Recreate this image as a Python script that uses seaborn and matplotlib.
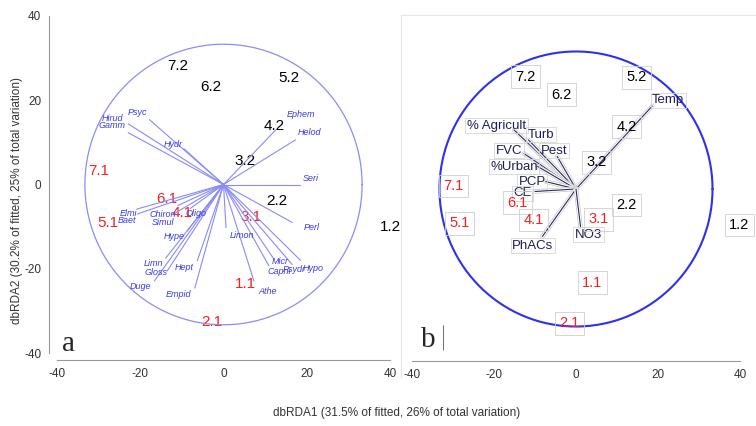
import numpy as np
import pandas as pd
import seaborn as sns
import matplotlib
matplotlib.use('Agg')
import matplotlib.pyplot as plt
import matplotlib.patheffects as pe

sns.set_style('white')
plt.rcParams['font.family'] = ['Liberation Sans', 'DejaVu Sans']
plt.rcParams['axes.unicode_minus'] = False

# sites (same for both panels)
site_names = ['7.2', '6.2', '5.2', '4.2', '3.2', '2.2', '1.2',
              '7.1', '6.1', '5.1', '4.1', '3.1', '1.1', '2.1']
site_red = [False] * 7 + [True] * 7
a_site_x = [-11.1, -3.1, 15.8, 12.1, 5.1, 12.8, 40.0,
            -29.9, -13.5, -27.7, -9.9, 6.7, 5.3, -2.9]
a_site_y = [28.1, 23.1, 25.2, 13.8, 5.5, -4.0, -10.2,
            3.3, -3.4, -9.2, -6.8, -7.6, -23.7, -32.6]
b_site_x = [-12.4, -3.5, 14.7, 12.4, 5.0, 12.3, 39.8,
            -29.8, -14.3, -28.4, -10.4, 5.4, 4.0, -1.7]
b_site_y = [27.2, 22.8, 27.0, 15.1, 6.5, -3.9, -8.7,
            0.7, -3.3, -8.3, -7.5, -7.3, -22.7, -32.5]

# taxa vectors (panel a)
taxa = ['Psyc', 'Hirud', 'Gamm', 'Hydr', 'Ephem', 'Helod', 'Seri', 'Perl',
        'Hypo', 'Psydr', 'Micr', 'Capni', 'Athe', 'Limon', 'Empid', 'Hept',
        'Duge', 'Gloss', 'Limn', 'Hype', 'Oligo', 'Simul', 'Chiron', 'Baet', 'Elmi']
taxa_x = [-17.8, -22.9, -22.9, -9.5, 12.5, 17.3, 18.3, 16.5,
          18.5, 16.5, 12.1, 10.9, 7.3, 0.6, -6.9, -6.3,
          -16.6, -13.5, -13.9, -8.7, -8.0, -12.0, -11.0, -20.7, -20.7]
taxa_y = [15.4, 14.4, 12.3, 8.5, 12.9, 10.6, 0.0, -9.0,
          -18.0, -19.0, -17.7, -19.3, -22.9, -10.2, -24.6, -18.1,
          -22.9, -20.5, -17.5, -11.0, -5.7, -7.0, -5.0, -7.0, -5.8]
taxa_lx = [-20.7, -26.7, -26.7, -12.1, 18.7, 20.6, 20.9, 21.2,
           21.6, 17.1, 13.7, 13.3, 10.5, 4.5, -10.7, -9.4,
           -20.0, -16.3, -16.9, -11.9, -6.5, -14.5, -14.7, -23.1, -22.8]
taxa_ly = [17.0, 15.7, 13.9, 9.5, 16.7, 12.3, 1.4, -10.3,
           -20.0, -20.2, -18.3, -20.6, -25.4, -12.0, -26.0, -19.7,
           -24.3, -21.0, -18.8, -12.3, -7.0, -9.0, -7.2, -8.6, -7.0]

# environmental vectors (panel b)
env = ['Temp', '% Agricult', 'Turb', 'Pest', 'FVC', '%Urban', 'PCP', 'CE', 'PhACs', 'NO3']
env_x = [18.6, -15.1, -11.6, -4.6, -12.7, -9.4, -7.4, -10.0, -8.2, 1.1]
env_y = [20.1, 14.3, 11.9, 7.9, 8.6, 5.5, 1.8, -0.6, -11.5, -9.1]
env_lx = [22.5, -19.4, -8.6, -5.4, -16.3, -15.1, -10.7, -13.1, -10.5, 3.0]
env_ly = [21.5, 15.3, 13.1, 9.3, 9.3, 5.4, 1.8, -1.0, -13.7, -11.1]

circle_r = 33.3

sites_a = pd.DataFrame({'x': a_site_x, 'y': a_site_y, 'name': site_names, 'red': site_red})
sites_b = pd.DataFrame({'x': b_site_x, 'y': b_site_y, 'name': site_names, 'red': site_red})
t = np.linspace(0, 2 * np.pi, 400)
circ = pd.DataFrame({'x': circle_r * np.cos(t), 'y': circle_r * np.sin(t)})

fig = plt.figure(figsize=(7.56, 4.26), dpi=100)
ax1 = fig.add_axes([57 / 756, 73 / 426, 333 / 756, 337 / 426])
ax2 = fig.add_axes([401 / 756, 49 / 426, 355 / 756, 362 / 426])

# ---- panel a ----
sns.lineplot(data=circ, x='x', y='y', sort=False, estimator=None, errorbar=None,
             color='#8c8cf5', linewidth=0.9, ax=ax1)
for i in range(len(taxa)):
    ax1.plot([0, taxa_x[i]], [0, taxa_y[i]], color='#8a8af8', linewidth=0.8)
    ax1.text(taxa_lx[i], taxa_ly[i], taxa[i], color='#3a3ae8', fontsize=6.5,
             style='italic', ha='center', va='center')
for _, r in sites_a.iterrows():
    ax1.text(r.x, r.y, r['name'], color='#f52020' if r.red else 'black',
             fontsize=11, ha='center', va='center', clip_on=False, zorder=1)

ax1.set_xlim(-40, 40)
ax1.set_ylim(-40, 40)
ax1.set_xticks([-40, -20, 0, 20, 40])
ax1.set_yticks([-40, -20, 0, 20, 40])
for s in ['top', 'right']:
    ax1.spines[s].set_visible(False)
ax1.spines['left'].set_position(('outward', 5.8))
ax1.spines['bottom'].set_position(('outward', 5.0))
for s in ['left', 'bottom']:
    ax1.spines[s].set_color('#999999')
ax1.tick_params(direction='inout', length=7, color='#999999', labelsize=8.5,
                labelcolor='#333333', pad=2)
ax1.set_xlabel('')
ax1.set_ylabel('')
ax1.patch.set_alpha(0)
ax1.text(-37.3, -37.9, 'a', family='Liberation Serif', fontsize=21, ha='center', va='center')

# ---- panel b ----
ax2.set_zorder(2)
sns.lineplot(data=circ, x='x', y='y', sort=False, estimator=None, errorbar=None,
             color='#2f2ff0', linewidth=1.5, ax=ax2)
halo = [pe.Stroke(linewidth=3.2, foreground='#c8c8c8'), pe.Stroke(linewidth=2.2, foreground='white'), pe.Normal()]
for i in range(len(env)):
    ax2.plot([0, env_x[i]], [0, env_y[i]], color='#2a2a66', linewidth=0.8, path_effects=halo)
for i in range(len(env)):
    ax2.text(env_lx[i], env_ly[i], env[i], color='#1e1e5a', fontsize=9.5, ha='center', va='center',
             bbox=dict(boxstyle='square,pad=0.12', facecolor='none', edgecolor='#d4d4d4', linewidth=0.6))
for _, r in sites_b.iterrows():
    ax2.text(r.x, r.y, r['name'], color='#f52020' if r.red else 'black',
             fontsize=10.5, ha='center', va='center',
             bbox=dict(boxstyle='square,pad=0.3', facecolor='none', edgecolor='#cfcfcf', linewidth=0.6))

ax2.set_xlim(-42.68, 43.9)
ax2.set_ylim(-45.52, 42.13)
ax2.set_xticks([-40, -20, 0, 20, 40])
ax2.set_yticks([])
ax2.spines['right'].set_visible(False)
ax2.spines['left'].set_color('#e6e6e6')
ax2.spines['top'].set_color('#e6e6e6')
ax2.spines['left'].set_linewidth(0.8)
ax2.spines['top'].set_linewidth(0.8)
ax2.spines['bottom'].set_position(('data', -41.65))
ax2.spines['bottom'].set_bounds(-40, 40)
ax2.spines['bottom'].set_color('#999999')
ax2.tick_params(axis='x', direction='inout', length=7, color='#999999', labelsize=8.5,
                labelcolor='#333333', pad=2)
ax2.set_xlabel('')
ax2.set_ylabel('')
ax2.text(-36.1, -36.6, 'b', family='Liberation Serif', fontsize=21, ha='center', va='center')
ax2.vlines(-32.4, -39.0, -32.9, color='#555555', linewidth=0.6)

fig.text(17 / 756, 1 - 200 / 426, 'dbRDA2 (30.2% of fitted, 25% of total variation)',
         rotation=90, ha='center', va='center', fontsize=8.5, color='#333333')
fig.text(397 / 756, 1 - 413 / 426, 'dbRDA1 (31.5% of fitted, 26% of total variation)',
         ha='center', va='center', fontsize=8.5, color='#333333')

plt.savefig('out.png', dpi=100)
